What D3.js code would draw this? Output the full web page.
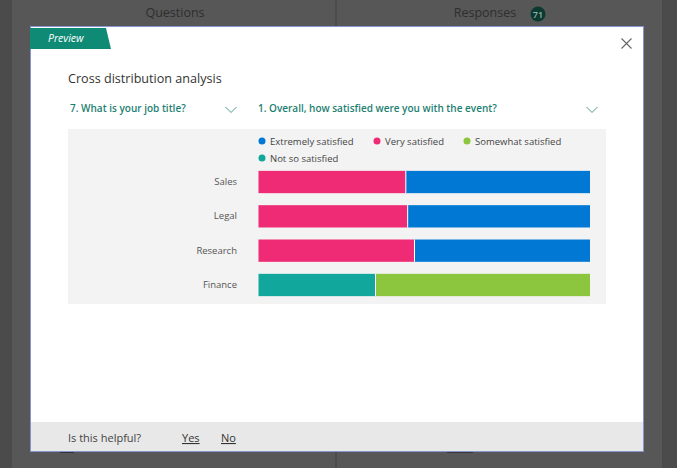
<!DOCTYPE html>
<html><head><meta charset="utf-8">
<script src="https://cdn.jsdelivr.net/npm/d3@7"></script>
<style>
html,body{margin:0;padding:0;background:#4d4d4d;}
svg{display:block;font-family:"Open Sans","Noto Sans",sans-serif;}
</style></head>
<body><svg id="c" width="677" height="468"></svg>
<script>
const categories = ["Sales", "Legal", "Research", "Finance"];
const seriesNames = ["Extremely satisfied", "Very satisfied", "Somewhat satisfied", "Not so satisfied"];
const extremely = [10, 11, 9, 0];
const very = [8, 9, 8, 0];
const somewhat = [0, 0, 0, 11];
const notSo = [0, 0, 0, 6];
const colors = ["#0078d4", "#ee2b74", "#8cc63f", "#12a79c"];

const svg = d3.select("#c");
// background page
svg.append("rect").attr("width",677).attr("height",468).attr("fill","#4b4b4b");
svg.append("rect").attr("x",12).attr("y",0).attr("width",323).attr("height",468).attr("fill","#575757");
svg.append("rect").attr("x",337).attr("y",0).attr("width",325).attr("height",468).attr("fill","#575757");
svg.append("text").attr("x",175).attr("y",17).attr("text-anchor","middle").attr("font-size",12.5).attr("fill","#2e2e2e").text("Questions");
svg.append("text").attr("x",485).attr("y",17).attr("text-anchor","middle").attr("font-size",12.5).attr("fill","#2e2e2e").text("Responses");
svg.append("circle").attr("cx",538).attr("cy",14).attr("r",7.5).attr("fill","#0c3a30");
svg.append("text").attr("x",538).attr("y",17.5).attr("text-anchor","middle").attr("font-size",9).attr("font-weight",600).attr("fill","#8fb3a8").text("71");
svg.append("rect").attr("x",60).attr("y",450).attr("width",14).attr("height",3).attr("fill","#333");
svg.append("rect").attr("x",447).attr("y",450).attr("width",26).attr("height",3).attr("fill","#3a3535");

// modal
svg.append("rect").attr("x",30.5).attr("y",26.5).attr("width",613).attr("height",425).attr("fill","#ffffff").attr("stroke","#8795cf").attr("stroke-width",1);
svg.append("rect").attr("x",31).attr("y",422).attr("width",612).attr("height",29).attr("fill","#e8e8e8");
svg.append("path").attr("d","M30,28 L106,28 L111,49 L30,49 Z").attr("fill","#0f8a75");
svg.append("text").attr("x",48).attr("y",42).attr("font-size",10.5).attr("font-style","italic").attr("fill","#ffffff").text("Preview");
svg.append("path").attr("d","M621.5,38.5 L631.5,48.5 M631.5,38.5 L621.5,48.5").attr("stroke","#666").attr("stroke-width",1.1);

svg.append("text").attr("x",68).attr("y",83).attr("font-size",12.6).attr("fill","#333").text("Cross distribution analysis");
svg.append("text").attr("x",70).attr("y",112).attr("font-size",10).attr("font-weight",600).attr("fill","#1d7f72").text("7. What is your job title?");
svg.append("text").attr("x",258).attr("y",112).attr("font-size",10).attr("font-weight",600).attr("fill","#1d7f72").text("1. Overall, how satisfied were you with the event?");
[231,592].forEach(cx=>{
  svg.append("path").attr("d",`M${cx-5.5},107 L${cx},112.5 L${cx+5.5},107`).attr("fill","none").attr("stroke","#4f9a8e").attr("stroke-width",1);
});

// chart area
svg.append("rect").attr("x",68).attr("y",129).attr("width",538).attr("height",175).attr("fill","#f3f3f3");

// legend
const legendPos = [[262,141],[377,141],[467,141],[262,158]];
seriesNames.forEach((n,i)=>{
  const [lx,ly]=legendPos[i];
  svg.append("circle").attr("cx",lx).attr("cy",ly).attr("r",3.5).attr("fill",colors[i]);
  svg.append("text").attr("x",lx+8).attr("y",ly+3.5).attr("font-size",9.5).attr("fill","#444").text(n);
});

// data table
const rows = categories.map((c,i)=>({cat:c, "Extremely satisfied":extremely[i], "Very satisfied":very[i], "Somewhat satisfied":somewhat[i], "Not so satisfied":notSo[i]}));
const stackKeys = ["Not so satisfied","Somewhat satisfied","Very satisfied","Extremely satisfied"];
const stacked = d3.stack().keys(stackKeys).offset(d3.stackOffsetExpand)(rows);

const x = d3.scaleLinear().domain([0,1]).range([258.5,590]);
const y = d3.scaleBand().domain(categories).range([164,303]).paddingInner(0.35).paddingOuter(0.2);

const color = d3.scaleOrdinal().domain(seriesNames).range(colors);

svg.append("g").selectAll("g").data(stacked).join("g")
  .attr("fill",d=>color(d.key))
  .selectAll("rect").data(d=>d).join("rect")
  .attr("x",d=>x(d[0]))
  .attr("y",d=>y(d.data.cat))
  .attr("width",d=>Math.max(0,x(d[1])-x(d[0])))
  .attr("height",y.bandwidth());

// separators
const splitAt = d => {const t=d["Extremely satisfied"]+d["Very satisfied"]+d["Somewhat satisfied"]+d["Not so satisfied"]; return x((d["Not so satisfied"]+d["Very satisfied"])/t);};
svg.append("g").selectAll("line").data(rows).join("line")
  .attr("x1",splitAt).attr("x2",splitAt)
  .attr("y1",d=>y(d.cat)).attr("y2",d=>y(d.cat)+y.bandwidth())
  .attr("stroke","#ffffff").attr("stroke-width",1);

const yAxis = d3.axisLeft(y).tickSize(0).tickPadding(0);
const ag = svg.append("g").attr("transform","translate(237,0)").call(yAxis);
ag.select(".domain").remove();
ag.selectAll("text").attr("font-size",9.5).attr("fill","#555").attr("font-family","'Open Sans','Noto Sans',sans-serif");

// footer
svg.append("text").attr("x",68).attr("y",442).attr("font-size",11).attr("fill","#444").text("Is this helpful?");
svg.append("text").attr("x",182).attr("y",442).attr("font-size",11).attr("fill","#333").attr("text-decoration","underline").text("Yes");
svg.append("text").attr("x",221).attr("y",442).attr("font-size",11).attr("fill","#333").attr("text-decoration","underline").text("No");
</script></body></html>
